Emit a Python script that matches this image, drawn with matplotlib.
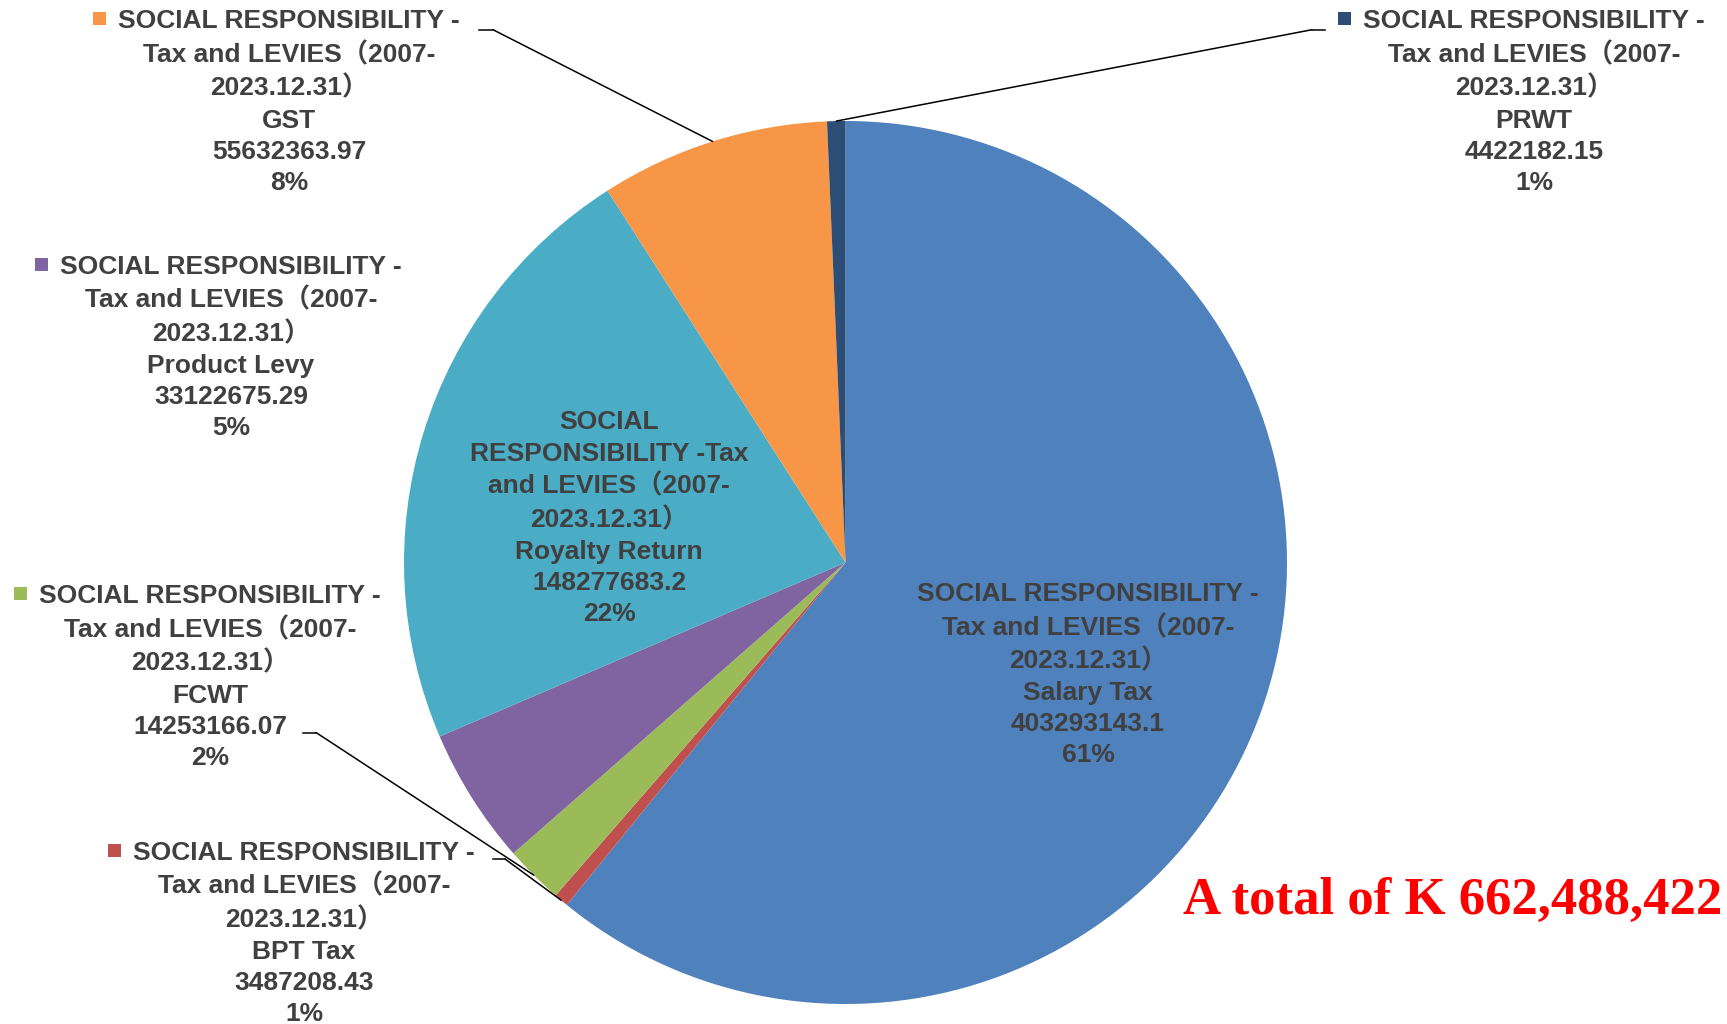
import numpy as np
import matplotlib.pyplot as plt
from matplotlib.patches import Rectangle
from matplotlib.lines import Line2D
from matplotlib.transforms import IdentityTransform

# data (clockwise from 12 o'clock)
categories = ['Salary Tax', 'BPT Tax', 'FCWT', 'Product Levy',
              'Royalty Return', 'GST', 'PRWT']
values = [403293143.1, 3487208.43, 14253166.07, 33122675.29,
          148277683.2, 55632363.97, 4422182.15]
colors = ['#4F81BD', '#C0504D', '#9BBB59', '#8064A2',
          '#4BACC6', '#F79646', '#2C4D75']

# wrapped series name, as Excel broke it
head_out = ['SOCIAL RESPONSIBILITY -', 'Tax and LEVIES（2007-', '2023.12.31）']
head_in = ['SOCIAL', 'RESPONSIBILITY -Tax', 'and LEVIES（2007-', '2023.12.31）']

W, H = 1727, 1024
fam = ['Liberation Sans', 'Noto Sans CJK SC', 'DejaVu Sans']
txt_col = '#404040'
fs = 19

# label layout in image pixels: x centre, y of first line, line offsets,
# inside/outside, leader stub (x0, x1, y)
offs6 = [0, 34, 67.5, 99.5, 130.5, 161.5]
offs7 = [0, 32, 64, 98, 130, 161, 192]
layout = {
    'Salary Tax':     dict(x=1088, y=591.5, offs=offs6, inside=True),
    'BPT Tax':        dict(x=304, y=850.3, offs=offs6, inside=False, stub=(493, 505, 859)),
    'FCWT':           dict(x=210, y=593.7, offs=offs6, inside=False, stub=(303, 316, 732.5)),
    'Product Levy':   dict(x=231, y=264.3, offs=offs6, inside=False, stub=None),
    'Royalty Return': dict(x=609, y=419.6, offs=offs7, inside=True),
    'GST':            dict(x=289, y=18.7, offs=offs6, inside=False, stub=(479, 493, 29.7)),
    'PRWT':           dict(x=1534, y=18.7, offs=offs6, inside=False, stub=(1325, 1312, 29.7)),
}

fig = plt.figure(figsize=(W / 100, H / 100), dpi=100)
ax = fig.add_axes([404 / W, (H - 1004) / H, 883 / W, 883 / H])
ax.pie(values, colors=colors, startangle=90, counterclock=False, radius=1,
       wedgeprops=dict(linewidth=0))
ax.set_xlim(-1, 1)
ax.set_ylim(-1, 1)
ax.set_aspect('equal')

total = sum(values)
fracs = np.array(values) / total
cum = np.cumsum(fracs) - fracs / 2
mid = np.deg2rad(90 - 360 * cum)

cap_half = 0.716 * fs * 100 / 72 / 2
first_lines = []
for i, cat in enumerate(categories):
    lay = layout[cat]
    pct = '{:.0f}%'.format(fracs[i] * 100)
    head = head_in if cat == 'Royalty Return' else head_out
    lines = head + [cat, f'{values[i]}', pct]
    for j, line in enumerate(lines):
        yb = lay['y'] + lay['offs'][j] + cap_half
        t = fig.text(lay['x'] / W, 1 - yb / H, line, ha='center', va='baseline',
                     fontsize=fs, fontweight='bold', color=txt_col, family=fam)
        if j == 0 and not lay['inside']:
            first_lines.append((t, colors[i], lay['y']))
    if not lay['inside'] and lay['stub'] is not None:
        sx0, sx1, sy = lay['stub']
        ax.annotate('', xy=(np.cos(mid[i]), np.sin(mid[i])), xycoords='data',
                    xytext=(sx1, H - sy), textcoords='figure pixels',
                    arrowprops=dict(arrowstyle='-', color='black', lw=1.1,
                                    shrinkA=0, shrinkB=0))
        fig.add_artist(Line2D([sx0, sx1], [H - sy, H - sy], color='black', lw=1.1,
                              transform=IdentityTransform()))

# legend keys in front of the first line of outside labels
fig.canvas.draw()
r = fig.canvas.get_renderer()
for t, c, y0 in first_lines:
    bb = t.get_window_extent(r)
    fig.add_artist(Rectangle((bb.x0 - 12 - 13, H - y0 - 6.5), 13, 13, facecolor=c,
                             edgecolor='none', transform=IdentityTransform()))

fig.text(1183 / W, 1 - 914 / H, 'A total of K {:,}'.format(int(total)),
         ha='left', va='baseline', fontsize=38, fontweight='bold',
         color='#FF0000', family=['Liberation Serif', 'DejaVu Serif'])

fig.savefig('out.png', dpi=100)
